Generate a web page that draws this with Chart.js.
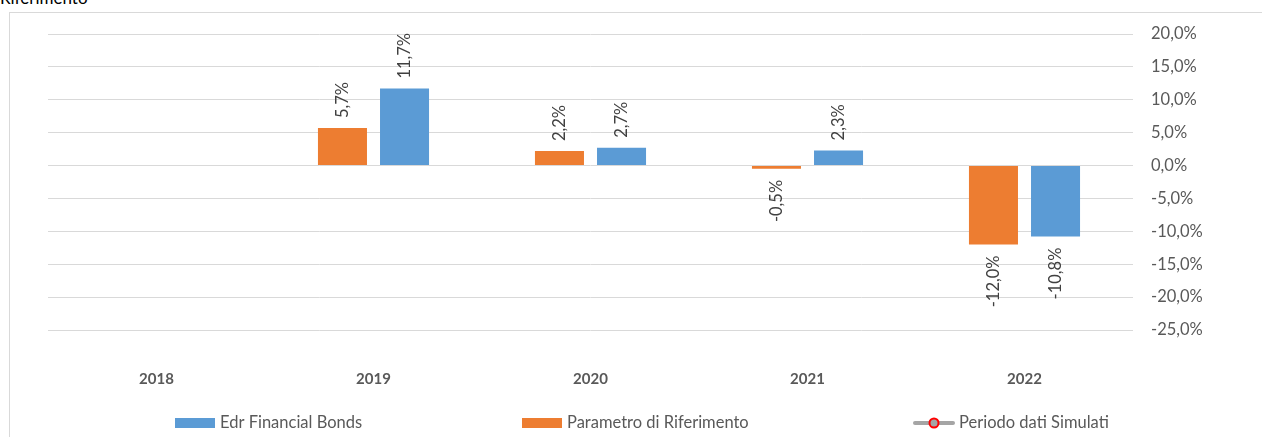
<!DOCTYPE html>
<html><head><meta charset="utf-8">
<script src="https://cdn.jsdelivr.net/npm/chart.js@4.4.0/dist/chart.umd.min.js"></script>
<style>
html,body{margin:0;padding:0;background:#fff;width:1262px;height:437px;overflow:hidden;position:relative;font-family:Lato, sans-serif;}
#frame{position:absolute;left:9px;top:12px;width:1300px;height:500px;border:1px solid #d9d9d9;box-sizing:border-box;}
#title{position:absolute;left:0;top:-12px;font-size:17px;line-height:20px;color:#000;}
#wrap{position:absolute;left:0;top:0;width:1262px;height:437px;}
</style></head><body>
<div id="title">Riferimento</div>
<div id="frame"></div>
<div id="wrap"><canvas id="c" width="1262" height="437"></canvas></div>
<script>
const categories = ['2018', '2019', '2020', '2021', '2022'];
const edrFinancialBonds = [null, 11.7, 2.7, 2.3, -10.8];
const parametroRiferimento = [null, 5.7, 2.2, -0.5, -12.0];
const periodoDatiSimulati = [null, null, null, null, null];
const yTickValues = [20, 15, 10, 5, 0, -5, -10, -15, -20, -25];
const seriesNames = ['Edr Financial Bonds', 'Parametro di Riferimento', 'Periodo dati Simulati'];

const BLUE = '#5B9BD5', ORANGE = '#ED7D31', GREY = '#A5A5A5', TXT = '#595959';
const FONT = 'Lato, sans-serif';

function fmt(v) { return v.toFixed(1).replace('.', ',') + '%'; }

const dataLabels = {
  id: 'dataLabels',
  afterDatasetsDraw(chart) {
    const ctx = chart.ctx;
    ctx.save();
    ctx.font = '16.5px ' + FONT;
    ctx.fillStyle = '#404040';
    ctx.textBaseline = 'middle';
    chart.data.datasets.forEach((ds, i) => {
      if (ds.type === 'line') return;
      const meta = chart.getDatasetMeta(i);
      meta.data.forEach((el, j) => {
        const v = ds.data[j];
        if (v === null || v === undefined) return;
        ctx.save();
        ctx.translate(el.x, el.y);
        ctx.rotate(-Math.PI / 2);
        if (v >= 0) { ctx.textAlign = 'left'; ctx.fillText(fmt(v), 10, 0); }
        else { ctx.textAlign = 'right'; ctx.fillText(fmt(v), -11, 0); }
        ctx.restore();
      });
    });
    ctx.restore();
  }
};

const customLegend = {
  id: 'customLegend',
  afterDraw(chart, args, opts) {
    const ctx = chart.ctx;
    const y = opts.y;
    ctx.save();
    ctx.font = '16.5px ' + FONT;
    ctx.textBaseline = 'middle';
    ctx.textAlign = 'left';
    opts.order.forEach((dsIndex, k) => {
      const ds = chart.data.datasets[dsIndex];
      const x = opts.xs[k];
      if (ds.type === 'line') {
        ctx.strokeStyle = ds.borderColor;
        ctx.lineWidth = 4;
        ctx.lineCap = 'round';
        ctx.beginPath(); ctx.moveTo(x + 2, y); ctx.lineTo(x + 40, y); ctx.stroke();
        ctx.beginPath(); ctx.arc(x + 21, y, 4.5, 0, Math.PI * 2);
        ctx.fillStyle = ds.pointBackgroundColor; ctx.fill();
        ctx.lineWidth = 2; ctx.strokeStyle = ds.pointBorderColor; ctx.stroke();
        ctx.fillStyle = TXT;
        ctx.fillText(ds.label, x + 46, y);
      } else {
        ctx.fillStyle = ds.backgroundColor;
        ctx.fillRect(x, y - 5, 40, 10);
        ctx.fillStyle = TXT;
        ctx.fillText(ds.label, x + 45, y);
      }
    });
    ctx.restore();
  }
};

new Chart(document.getElementById('c'), {
  type: 'bar',
  data: {
    labels: categories,
    datasets: [
      { label: seriesNames[1], data: parametroRiferimento, backgroundColor: ORANGE, borderWidth: 0,
        categoryPercentage: 0.572, barPercentage: 0.79 },
      { label: seriesNames[0], data: edrFinancialBonds, backgroundColor: BLUE, borderWidth: 0,
        categoryPercentage: 0.572, barPercentage: 0.79 },
      { type: 'line', label: seriesNames[2], data: periodoDatiSimulati, borderColor: GREY,
        pointBackgroundColor: GREY, pointBorderColor: '#FF0000', borderWidth: 4 }
    ]
  },
  options: {
    responsive: false,
    animation: false,
    devicePixelRatio: 1,
    layout: { padding: { left: 48, top: 34, right: 0, bottom: 37 } },
    plugins: {
      legend: { display: false },
      tooltip: { enabled: false },
      customLegend: { y: 423, xs: [175, 522, 913], order: [1, 0, 2] }
    },
    scales: {
      x: {
        grid: { display: false, drawTicks: false },
        border: { display: false },
        ticks: { color: TXT, font: { family: FONT, size: 15, weight: 'bold' }, padding: 40 },
        afterFit(s) { s.height = 70; }
      },
      y: {
        position: 'right',
        min: -25, max: 20,
        afterBuildTicks(s) { s.ticks = yTickValues.map(v => ({ value: v })); },
        grid: { color: '#d9d9d9', lineWidth: 1, drawTicks: false },
        border: { display: false },
        ticks: { color: TXT, font: { family: FONT, size: 16.5 }, padding: 18, callback: v => fmt(v) },
        afterFit(s) { s.width = 129; }
      }
    }
  },
  plugins: [dataLabels, customLegend]
});
</script>
</body></html>
